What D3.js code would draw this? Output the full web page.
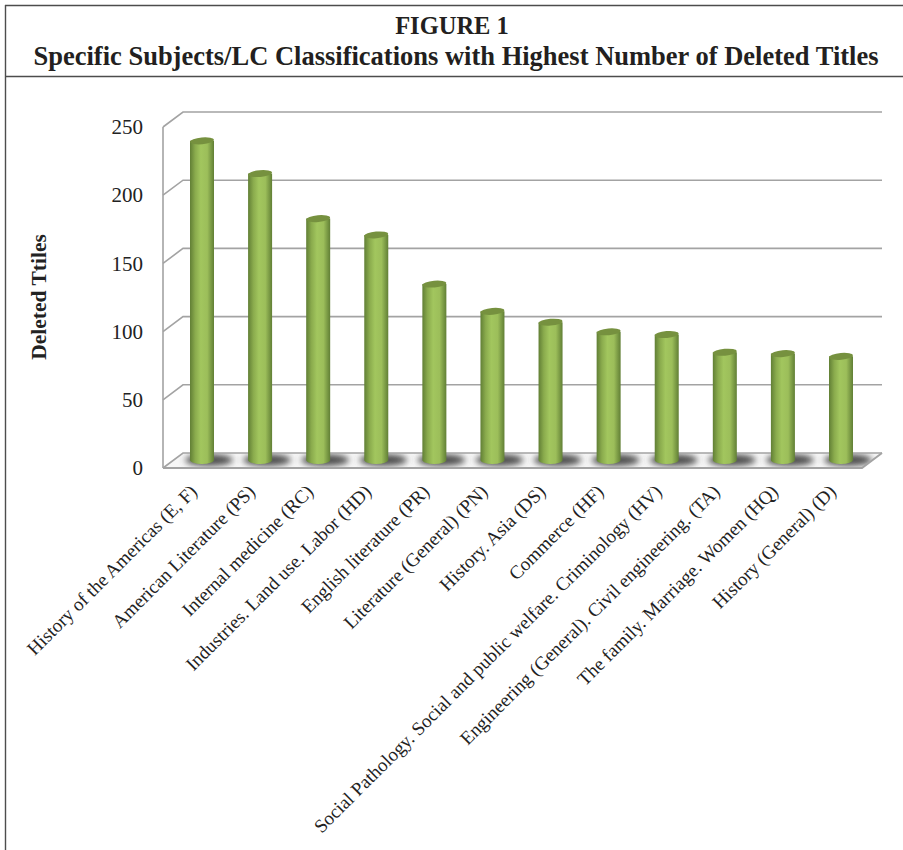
<!DOCTYPE html>
<html>
<head>
<meta charset="utf-8">
<script src="https://cdn.jsdelivr.net/npm/d3@7"></script>
<style>
html, body { margin: 0; padding: 0; background: #fff; }
svg { display: block; }
</style>
</head>
<body>
<div id="chart"></div>
<script>
// data
var categories = [
	"History of the Americas (E, F)",
	"American Literature (PS)",
	"Internal medicine (RC)",
	"Industries. Land use. Labor (HD)",
	"English literature (PR)",
	"Literature (General) (PN)",
	"History. Asia (DS)",
	"Commerce (HF)",
	"Social Pathology. Social and public welfare. Criminology (HV)",
	"Engineering (General). Civil engineering. (TA)",
	"The family. Marriage. Women (HQ)",
	"History (General) (D)"
];
var deleted = [234, 210, 177, 165, 129, 109, 101, 94, 92, 79, 78, 76];
var yTicks = [0, 50, 100, 150, 200, 250];

var width = 903, height = 850;
var grey = '#a3a3a3';
var serif = '"Liberation Serif", serif';
// how far the back wall sits from the front of the box
var depthX = 20, depthY = 15;
var barW = 24;

var svg = d3.select("#chart").append("svg")
	.attr("width", width)
	.attr("height", height);

var defs = svg.append("defs");
var barGrad = defs.append("linearGradient").attr("id", "barGrad");
barGrad.append("stop").attr("offset", "0%").attr("stop-color", "#617f35");
barGrad.append("stop").attr("offset", "22%").attr("stop-color", "#8aab4d");
barGrad.append("stop").attr("offset", "45%").attr("stop-color", "#a2c65e");
barGrad.append("stop").attr("offset", "72%").attr("stop-color", "#9cbe5a");
barGrad.append("stop").attr("offset", "100%").attr("stop-color", "#617f35");
defs.append("filter").attr("id", "blur")
	.attr("x", "-40%").attr("y", "-80%").attr("width", "180%").attr("height", "260%")
	.append("feGaussianBlur").attr("stdDeviation", 3);

// scales: x is the middle of the box, y is on the back wall
var x = d3.scalePoint().domain(categories).range([202, 841]);
var y = d3.scaleLinear().domain([0, 250]).range([453, 112]);
var yFront = y.copy().range([453 + depthY, 112 + depthY]);
var yBar = y.copy().range([453 + 7, 112 + 7]);
var left = 163, right = 862;

// frame
var frame = svg.append("g").attr("stroke", "#4d4d4d").attr("stroke-width", 1.4);
frame.append("line").attr("x1", 5).attr("x2", 903).attr("y1", 5.5).attr("y2", 5.5);
frame.append("line").attr("x1", 5.5).attr("x2", 5.5).attr("y1", 5).attr("y2", 850);
frame.append("line").attr("x1", 5).attr("x2", 903).attr("y1", 76.5).attr("y2", 76.5);

// title
svg.append("text")
	.attr("x", 452).attr("y", 33.5)
	.attr("text-anchor", "middle")
	.style("font", "bold 24.5px " + serif)
	.attr("fill", "#231f20")
	.text("FIGURE 1");
svg.append("text")
	.attr("x", 456).attr("y", 65)
	.attr("text-anchor", "middle")
	.style("font", "bold 26.5px " + serif)
	.attr("fill", "#231f20")
	.text("Specific Subjects/LC Classifications with Highest Number of Deleted Titles");

// floor
var floorPts = [
	[left, yFront(0)], [left + depthX, y(0)],
	[right + depthX, y(0)], [right, yFront(0)]
];
defs.append("clipPath").attr("id", "floorClip")
	.append("polygon").attr("points", floorPts.join(" "));
svg.append("polygon")
	.attr("points", floorPts.join(" "))
	.attr("fill", "#f7f7f7");
svg.append("g").attr("clip-path", "url(#floorClip)")
	.selectAll("ellipse")
	.data(categories)
	.enter()
	.append("ellipse")
	.attr("cx", function(d) { return x(d) + 7; })
	.attr("cy", yBar(0))
	.attr("rx", 24)
	.attr("ry", 6)
	.attr("fill", "#505050")
	.attr("filter", "url(#blur)");

// back wall grid and the slanted bit on the side wall
var grid = svg.append("g").attr("stroke", grey).attr("stroke-width", 1.6).attr("fill", "none");
grid.selectAll(".back")
	.data(yTicks)
	.enter()
	.append("path")
	.attr("class", "back")
	.attr("d", function(d) {
		return "M" + left + " " + yFront(d) + "L" + (left + depthX) + " " + y(d) + "L" + (right + depthX) + " " + y(d);
	});
grid.append("line")
	.attr("x1", left).attr("x2", left)
	.attr("y1", yFront(250)).attr("y2", yFront(0));
grid.append("path")
	.attr("stroke-width", 2)
	.attr("d", "M" + left + " " + yFront(0) + "L" + right + " " + yFront(0) + "L" + (right + depthX) + " " + y(0));

// cylinders
var bars = svg.append("g").selectAll("g")
	.data(d3.zip(categories, deleted))
	.enter()
	.append("g");
bars.append("path")
	.attr("fill", "url(#barGrad)")
	.attr("d", function(d) {
		var x0 = x(d[0]) - barW / 2, x1 = x(d[0]) + barW / 2;
		return "M" + x0 + " " + yBar(d[1]) +
			"L" + x0 + " " + yBar(0) +
			"A" + (barW / 2) + " 4 0 0 0 " + x1 + " " + yBar(0) +
			"L" + x1 + " " + yBar(d[1]) + "Z";
	});
bars.append("ellipse")
	.attr("rx", barW / 2)
	.attr("ry", 3.4)
	.attr("fill", "#76913f")
	.attr("transform", function(d) {
		return "translate(" + x(d[0]) + "," + yBar(d[1]) + ") rotate(-5)";
	});

// axes, only the text is kept
var yAxis = svg.append("g")
	.attr("transform", "translate(143,0)")
	.call(d3.axisLeft(yFront).tickValues(yTicks).tickSize(0).tickPadding(0));
yAxis.select(".domain").remove();
yAxis.selectAll("text")
	.style("font", "21px " + serif)
	.attr("fill", "#222");

var xAxis = svg.append("g")
	.attr("transform", "translate(-9,488)")
	.call(d3.axisBottom(x).tickSize(0).tickPadding(0));
xAxis.select(".domain").remove();
xAxis.selectAll("text")
	.style("font", "19px " + serif)
	.attr("fill", "#222")
	.attr("text-anchor", "end")
	.attr("dy", "0.35em")
	.attr("y", 0)
	.attr("transform", "rotate(-45)");

svg.append("text")
	.attr("transform", "translate(46,297) rotate(-90)")
	.attr("text-anchor", "middle")
	.style("font", "bold 21.5px " + serif)
	.attr("fill", "#222")
	.text("Deleted Ttiles");
</script>
</body>
</html>
